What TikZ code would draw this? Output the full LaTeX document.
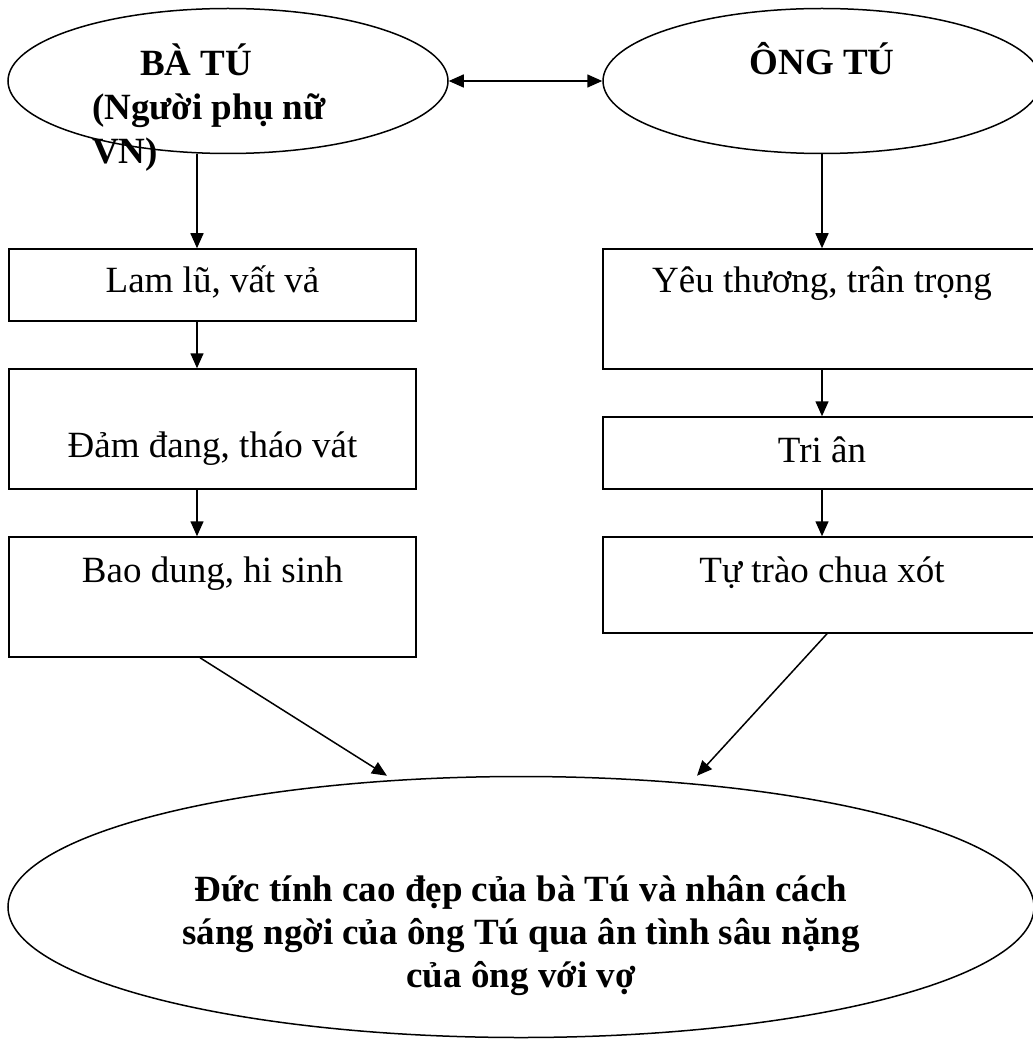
\documentclass[tikz,border=0pt]{standalone}
\usepackage{fontspec}
\setmainfont{Liberation Serif}
\usetikzlibrary{shapes,arrows.meta,positioning}

\begin{document}
\begin{tikzpicture}[x=1pt, y=-1pt,
    block/.style={rectangle, draw, line width=1.5pt, inner sep=0pt, text height=24pt, text depth=8pt, font=\fontsize{37}{44}\selectfont},
    oval/.style={ellipse, draw, line width=1.5pt, inner sep=0pt, font=\bfseries\fontsize{37}{44}\selectfont},
    arrow/.style={->, >={Triangle[length=15pt,width=13pt]}, line width=1.5pt}]

    \useasboundingbox (0,0) rectangle (1032,1040);

    % top ovals
    \node[oval, minimum width=440pt, minimum height=145pt] (batu) at (228,81) {};
    \node[font=\bfseries\fontsize{37}{44}\selectfont, align=left, anchor=north west, inner sep=0pt] (batutxt) at (92,44) {\hspace*{48pt}BÀ TÚ\\(Người phụ nữ\\VN)};
    \node[oval, minimum width=438pt, minimum height=145pt, text height=28pt, text depth=40pt] (ongtu) at (822,81) {ÔNG TÚ};

    % left column
    \node[block, minimum width=407pt, minimum height=72pt] (lamlu) at (212.5,285) {Lam lũ, vất vả};
    \node[block, minimum width=407pt, minimum height=120pt, text height=64pt] (damdang) at (212.5,429) {Đảm đang, tháo vát};
    \node[block, minimum width=407pt, minimum height=120pt, text depth=54pt] (baodung) at (212.5,597) {Bao dung, hi sinh};

    % right column
    \node[block, minimum width=438pt, minimum height=120pt, text depth=56pt] (yeuthuong) at (822,309) {Yêu thương, trân trọng};
    \node[block, minimum width=438pt, minimum height=72pt, text depth=6pt] (trian) at (822,453) {Tri ân};
    \node[block, minimum width=438pt, minimum height=96pt, text depth=30pt] (tutrao) at (822,585) {Tự trào chua xót};

    % bottom oval
    \node[oval, minimum width=1026pt, minimum height=261pt] (ductinh) at (521,907) {};
    \node[font=\bfseries\fontsize{37}{43}\selectfont, align=center, inner sep=0pt] (ductinhtxt) at (521,936) {Đức tính cao đẹp của bà Tú và nhân cách\\sáng ngời của ông Tú qua ân tình sâu nặng\\của ông với vợ};

    \draw[arrow, <->] (batu) -- (ongtu);
    \draw[arrow] ([xshift=-15.5pt]lamlu.north |- batu.south) -- ([xshift=-15.5pt]lamlu.north);
    \draw[arrow] ([xshift=-15.5pt]lamlu.south) -- ([xshift=-15.5pt]damdang.north);
    \draw[arrow] ([xshift=-15.5pt]damdang.south) -- ([xshift=-15.5pt]baodung.north);
    \draw[arrow] (ongtu) -- (yeuthuong);
    \draw[arrow] (yeuthuong) -- (trian);
    \draw[arrow] (trian) -- (tutrao);
    \draw[arrow] ([xshift=-12.5pt]baodung.south) -- ([xshift=-134pt]ductinh.north);
    \draw[arrow] ([xshift=5pt]tutrao.south) -- ([xshift=176pt]ductinh.north);

\end{tikzpicture}
\end{document}
